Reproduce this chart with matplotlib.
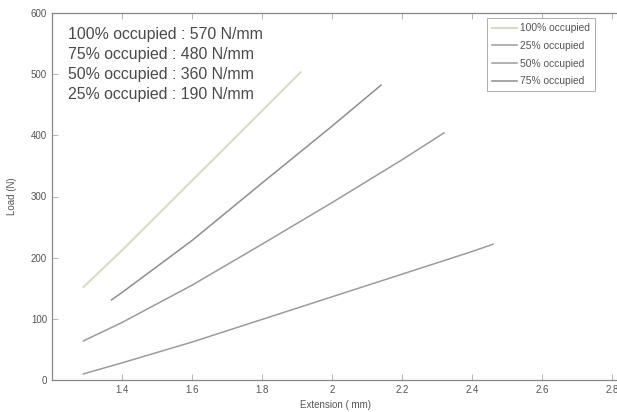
import matplotlib
matplotlib.use("Agg")
import matplotlib.pyplot as plt
from matplotlib.ticker import FuncFormatter

plt.rcParams['font.family'] = ['Liberation Sans', 'DejaVu Sans']

# Data
x100 = [1.29, 1.40, 1.60, 1.80, 1.91]
y100 = [152, 212, 326, 440, 503]
x75 = [1.37, 1.40, 1.60, 1.80, 2.00, 2.14]
y75 = [131, 143, 228, 322, 415, 482]
x50 = [1.29, 1.40, 1.60, 1.80, 2.00, 2.20, 2.32]
y50 = [64, 94, 155, 222, 290, 360, 404]
x25 = [1.29, 1.40, 1.60, 1.80, 2.00, 2.20, 2.40, 2.46]
y25 = [10, 28, 62, 99, 136, 173, 210, 222]

series_labels = ['100% occupied', '25% occupied', '50% occupied', '75% occupied']
stiffness_text = ['100% occupied : 570 N/mm', '75% occupied : 480 N/mm',
                  '50% occupied : 360 N/mm', '25% occupied : 190 N/mm']
xticks = [1.4, 1.6, 1.8, 2.0, 2.2, 2.4, 2.6, 2.8, 3.0]
yticks = [0, 100, 200, 300, 400, 500, 600]

fig = plt.figure(figsize=(6.17, 4.12), dpi=100)
W, H = 617, 412
left_px, right_px, top_px, bot_px = 52, 682, 13, 380
ax = fig.add_axes([left_px / W, (H - bot_px) / H, (right_px - left_px) / W, (bot_px - top_px) / H])

ax.plot(x100, y100, color='#d8dbc6', lw=1.5, label=series_labels[0])
ax.plot(x25, y25, color='#9c9c9c', lw=1.1, label=series_labels[1])
ax.plot(x50, y50, color='#9c9c9c', lw=1.1, label=series_labels[2])
ax.plot(x75, y75, color='#8f8f8f', lw=1.1, label=series_labels[3])

ax.set_xlim(1.2, 3.0)
ax.set_ylim(0, 600)
ax.set_xticks(xticks)
ax.set_yticks(yticks)
ax.xaxis.set_major_formatter(FuncFormatter(lambda v, p: '%g' % round(v, 2)))
ax.tick_params(direction='in', length=4, width=0.6, colors='#aaaaaa',
               labelcolor='#555555', labelsize=7, top=True, right=True)
for s in ax.spines.values():
    s.set_color('#888888')
    s.set_linewidth(0.9)

ax.set_xlabel('Extension ( mm)', fontsize=7, color='#555555')
ax.xaxis.set_label_coords((335 - left_px) / (right_px - left_px), -0.055)
ax.set_ylabel('Load (N)', fontsize=7, color='#555555')
ax.yaxis.set_label_coords(-(52 - 17) / (right_px - left_px), 0.5)

for i, t in enumerate(stiffness_text):
    fig.text(68 / W, 1 - (35 + 20 * i) / H, t, fontsize=11.4, color='#4a4a4a',
             va='center', ha='left')

leg = ax.legend(loc='upper left', bbox_to_anchor=((487 - left_px) / (right_px - left_px),
                (bot_px - 18) / (bot_px - top_px)),
                fontsize=7.4, frameon=True, fancybox=False, handlelength=2.4,
                handletextpad=0.3, labelspacing=0.75, borderpad=0.5, borderaxespad=0)
leg.get_frame().set_edgecolor('#999999')
leg.get_frame().set_linewidth(0.7)
for txt in leg.get_texts():
    txt.set_color('#555555')

fig.savefig('out.png', dpi=100)
